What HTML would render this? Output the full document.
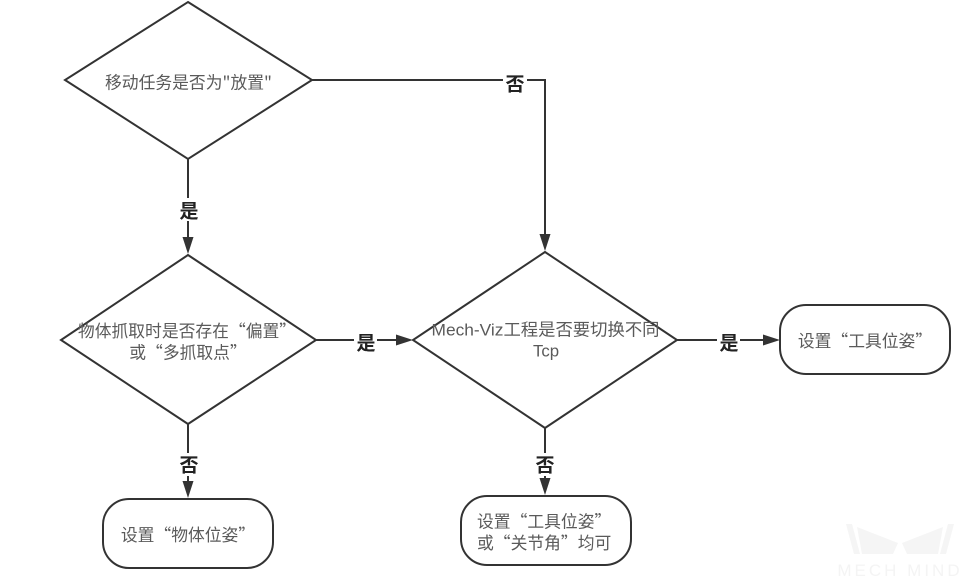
<!DOCTYPE html>
<html><head><meta charset="utf-8"><style>
html,body{margin:0;padding:0;background:#fff;}
svg{display:block;}
.n{font-family:"Noto Sans CJK SC","Liberation Sans",sans-serif;font-size:16.8px;fill:#5a5a5a;}
.l{font-family:"Noto Sans CJK SC","Liberation Sans",sans-serif;font-size:19px;font-weight:bold;fill:#222;}
</style></head><body>
<svg width="975" height="581" viewBox="0 0 975 581" xmlns="http://www.w3.org/2000/svg">
<!-- watermark -->
<g fill="#f5f5f5">
<polygon points="846,524 852,524 860,554 854,554"/>
<polygon points="954,524 948,524 940,554 946,554"/>
<polygon points="857,527 898,543 893,554 862,554"/>
<polygon points="943,527 902,543 907,554 938,554"/>
<text x="900" y="576" text-anchor="middle" font-family="Liberation Sans,sans-serif" font-size="17" letter-spacing="3" fill="#f4f4f4">MECH MIND</text>
</g>
<g stroke="#333" stroke-width="2" fill="none">
<!-- diamonds -->
<polygon points="188,2 312,80 188,159 65,80" fill="#fff"/>
<polygon points="188,255 316,340 188,424 61,340" fill="#fff"/>
<polygon points="545,252 677,340 545,428 413,340" fill="#fff"/>
<!-- rounded rects -->
<rect x="103" y="499" width="170" height="69" rx="26" ry="26" fill="#fff"/>
<rect x="461" y="496" width="170" height="69" rx="26" ry="26" fill="#fff"/>
<rect x="780" y="305" width="170" height="69" rx="26" ry="26" fill="#fff"/>
<!-- connectors -->
<line x1="188" y1="159" x2="188" y2="240"/>
<polyline points="312,80 545,80 545,236"/>
<line x1="316" y1="340" x2="398" y2="340"/>
<line x1="677" y1="340" x2="764" y2="340"/>
<line x1="188" y1="424" x2="188" y2="484"/>
<line x1="545" y1="428" x2="545" y2="480"/>
</g>
<!-- arrowheads -->
<g fill="#333">
<polygon points="182.5,237 193.5,237 188,254"/>
<polygon points="539.5,234 550.5,234 545,251"/>
<polygon points="396,334.5 396,345.5 413,340"/>
<polygon points="763,334.5 763,345.5 780,340"/>
<polygon points="182.5,481 193.5,481 188,498"/>
<polygon points="539.5,478 550.5,478 545,495"/>
</g>
<!-- label backgrounds -->
<g fill="#fff">
<rect x="177" y="198" width="22" height="23"/>
<rect x="503" y="71" width="24" height="22"/>
<rect x="354" y="330" width="23" height="22"/>
<rect x="717" y="330" width="23" height="22"/>
<rect x="177" y="453" width="22" height="23"/>
<rect x="534" y="453" width="22" height="23"/>
</g>
<!-- edge labels -->
<text class="l" x="189" y="210" text-anchor="middle" dominant-baseline="central">是</text>
<text class="l" x="515" y="83" text-anchor="middle" dominant-baseline="central">否</text>
<text class="l" x="366" y="342" text-anchor="middle" dominant-baseline="central">是</text>
<text class="l" x="729" y="342" text-anchor="middle" dominant-baseline="central">是</text>
<text class="l" x="189" y="464" text-anchor="middle" dominant-baseline="central">否</text>
<text class="l" x="545" y="464" text-anchor="middle" dominant-baseline="central">否</text>
<!-- node texts -->
<text class="n" x="188.5" y="81.5" text-anchor="middle" dominant-baseline="central" textLength="167" lengthAdjust="spacingAndGlyphs">移动任务是否为"放置"</text>
<text class="n" x="187" y="330" text-anchor="middle" dominant-baseline="central">物体抓取时是否存在“偏置”</text>
<text class="n" x="188" y="351.5" text-anchor="middle" dominant-baseline="central">或“多抓取点”</text>
<text class="n" x="545.5" y="330" text-anchor="middle" dominant-baseline="central" textLength="228" lengthAdjust="spacingAndGlyphs" style="font-family:'Liberation Sans','Noto Sans CJK SC',sans-serif">Mech-Viz工程是否要切换不同</text>
<text class="n" x="546" y="351" text-anchor="middle" dominant-baseline="central" style="font-family:'Liberation Sans',sans-serif">Tcp</text>
<text class="n" x="865" y="340" text-anchor="middle" dominant-baseline="central">设置“工具位姿”</text>
<text class="n" x="477" y="520.5" dominant-baseline="central">设置“工具位姿”</text>
<text class="n" x="477" y="542" dominant-baseline="central">或“关节角”均可</text>
<text class="n" x="188" y="534" text-anchor="middle" dominant-baseline="central">设置“物体位姿”</text>
</svg>
</body></html>
